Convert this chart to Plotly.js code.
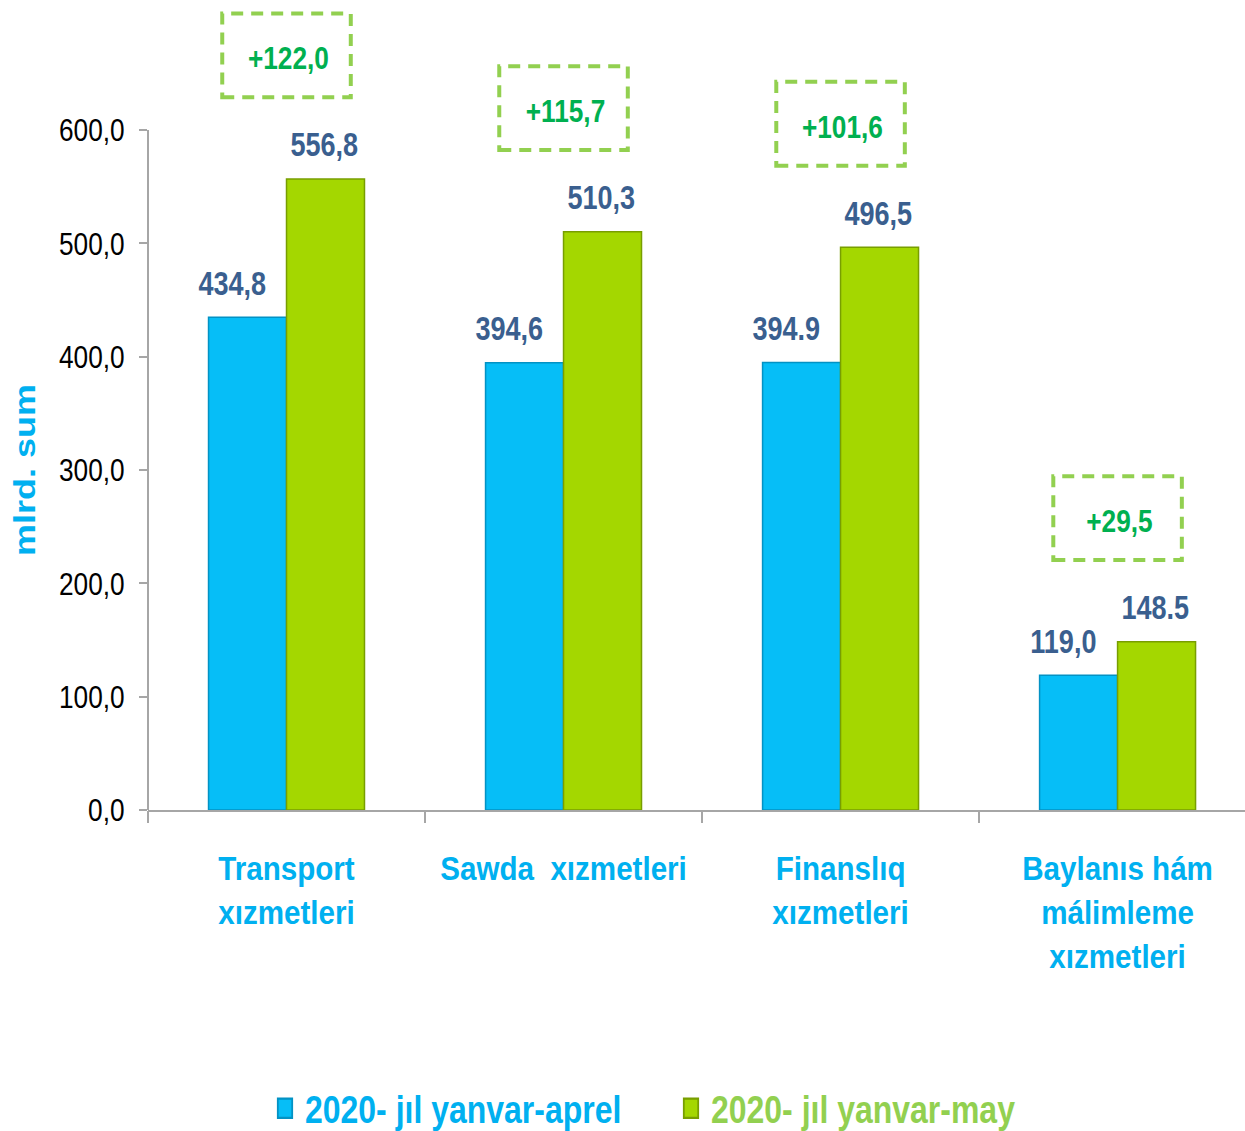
<!DOCTYPE html>
<html>
<head>
<meta charset="utf-8">
<script src="https://cdn.plot.ly/plotly-3.0.1.min.js"></script>
<style>html,body{margin:0;padding:0;background:#fff;}#chart{width:1245px;height:1131px;}</style>
</head>
<body>
<div id="chart"></div>
<script>
const categories = ["Transport<br>xızmetleri", "Sawda\u00a0 xızmetleri", "Finanslıq<br>xızmetleri", "Baylanıs hám<br>málimleme<br>xızmetleri"];
const seriesNames = ["2020- jıl yanvar-aprel", "2020- jıl yanvar-may"];
const aprelValues = [434.8, 394.6, 394.9, 119.0];
const mayValues = [556.8, 510.3, 496.5, 148.5];
const aprelLabels = ["434,8", "394,6", "394.9", "119,0"];
const mayLabels = ["556,8", "510,3", "496,5", "148.5"];
const diffLabels = ["+122,0", "+115,7", "+101,6", "+29,5"];
const yTickVals = [0, 100, 200, 300, 400, 500, 600];
const yTickText = ["0,0", "100,0", "200,0", "300,0", "400,0", "500,0", "600,0"];
const yTitle = "mlrd. sum";

const FONT = "'Liberation Sans', Arial, sans-serif";
const CONDENSE = 0.82;
const BLUE = "#06BEF7", GREEN = "#A4D700";
const BLUE_TXT = "#00B0F0", GREEN_TXT = "#92D050";
const LABEL_CLR = "#3A5F8F", DIFF_CLR = "#00B050";

const idx = categories.map((c, i) => i);

const traces = [
  {type: "bar", x: idx, y: aprelValues, name: `<span style="color:${BLUE_TXT}">${seriesNames[0]}</span>`,
   marker: {color: BLUE, line: {color: "#0392C4", width: 1.5}}, hoverinfo: "y"},
  {type: "bar", x: idx, y: mayValues, name: `<span style="color:${GREEN_TXT}">${seriesNames[1]}</span>`,
   marker: {color: GREEN, line: {color: "#789E00", width: 1.5}}, hoverinfo: "y"},
  {type: "scatter", x: [0], y: [0], xaxis: "x2", yaxis: "y", mode: "none", showlegend: false, hoverinfo: "skip"}
];

const annotations = [];
const shapes = [];
const BOX_OFFSET = 109, BOX_HALF_H = 37, BOX_HALF_W = 0.232;
idx.forEach(i => {
  annotations.push({x: i, y: aprelValues[i], xref: "x", yref: "y", text: aprelLabels[i], showarrow: false,
    xshift: -54, yshift: 34, yanchor: "middle", font: {family: FONT, size: 33, color: LABEL_CLR, weight: 700}});
  annotations.push({x: i, y: mayValues[i], xref: "x", yref: "y", text: mayLabels[i], showarrow: false,
    xshift: 38, yshift: 34, yanchor: "middle", font: {family: FONT, size: 33, color: LABEL_CLR, weight: 700}});
  const cy = mayValues[i] + BOX_OFFSET;
  annotations.push({x: i, y: cy, xref: "x", yref: "y", text: diffLabels[i], showarrow: false,
    xshift: 2, yshift: -3, yanchor: "middle", font: {family: FONT, size: 32, color: DIFF_CLR, weight: 700}});
  shapes.push({type: "rect", xref: "x", yref: "y", x0: i - BOX_HALF_W, x1: i + BOX_HALF_W,
    y0: cy - BOX_HALF_H, y1: cy + BOX_HALF_H, line: {color: GREEN_TXT, width: 4, dash: "12px,8px"}, fillcolor: "rgba(0,0,0,0)"});
});
// y-axis title as annotation centred on the tick range
annotations.push({xref: "paper", yref: "y", x: 0, y: (yTickVals[0] + yTickVals[yTickVals.length - 1]) / 2,
  xshift: -126, text: yTitle, textangle: -90, showarrow: false, xanchor: "center", yanchor: "middle",
  font: {family: FONT, size: 36, color: BLUE_TXT, weight: 700}});
// y axis line only over tick range
shapes.push({type: "line", xref: "paper", yref: "y", x0: 0, x1: 0, y0: yTickVals[0], y1: yTickVals[yTickVals.length - 1],
  line: {color: "#A6A6A6", width: 2}, layer: "above"});

const layout = {
  width: 1245, height: 1131,
  margin: {l: 148, r: 0, t: 0, b: 321, pad: 0},
  paper_bgcolor: "#fff", plot_bgcolor: "#fff",
  barmode: "group", bargap: 0.437, bargroupgap: 0,
  showlegend: true,
  legend: {orientation: "h", xref: "container", yref: "container", x: 265 / 1245, xanchor: "left", y: 0.02, yanchor: "middle",
    entrywidth: 361, entrywidthmode: "pixels",
    font: {family: FONT, size: 39, weight: 700}, itemclick: false},
  xaxis: {type: "linear", range: [-0.5, 3.46], tickvals: idx, ticktext: categories,
    showline: true, linecolor: "#A6A6A6", linewidth: 2, showgrid: false, zeroline: false,
    ticks: "", ticklabelstandoff: 27,
    tickfont: {family: FONT, size: 34, color: BLUE_TXT, weight: 700}},
  xaxis2: {overlaying: "x", type: "linear", range: [-0.5, 3.46], tickvals: [-0.5, 0.5, 1.5, 2.5], ticktext: ["", "", "", ""],
    ticks: "outside", ticklen: 12, tickwidth: 2, tickcolor: "#A6A6A6", showgrid: false, zeroline: false, showline: false, anchor: "y", side: "bottom"},
  yaxis: {range: [0, 714.7], tickvals: yTickVals, ticktext: yTickText, showgrid: false, zeroline: false, showline: false,
    ticks: "outside", ticklen: 8, tickwidth: 2, tickcolor: "#A6A6A6", ticklabelstandoff: 8,
    tickfont: {family: FONT, size: 32, color: "#000"}},
  annotations: annotations,
  shapes: shapes
};

function condenseX(el, s) {
  const x = parseFloat(el.getAttribute("x")) || 0;
  const t = el.getAttribute("transform") || "";
  el.setAttribute("transform", `${t} translate(${x},0) scale(${s},1) translate(${-x},0)`);
}
function condenseY(el, s) {
  const y = parseFloat(el.getAttribute("y")) || 0;
  const t = el.getAttribute("transform") || "";
  el.setAttribute("transform", `${t} translate(0,${y}) scale(1,${s}) translate(0,${-y})`);
}

Plotly.newPlot("chart", traces, layout, {displayModeBar: false, staticPlot: true}).then(gd => {
  gd.querySelectorAll(".xtick text").forEach(el => condenseX(el, 0.87));
  gd.querySelectorAll(".ytick text, .legendtext").forEach(el => condenseX(el, CONDENSE));
  gd.querySelectorAll(".annotation-text").forEach(el => {
    if (el.textContent === yTitle) condenseY(el, CONDENSE);
    else condenseX(el, CONDENSE);
  });
  gd.querySelectorAll(".legendpoints path").forEach(el => {
    const t = el.getAttribute("transform") || "";
    el.setAttribute("transform", `${t} scale(1.2,1.6)`);
  });
});
</script>
</body>
</html>
